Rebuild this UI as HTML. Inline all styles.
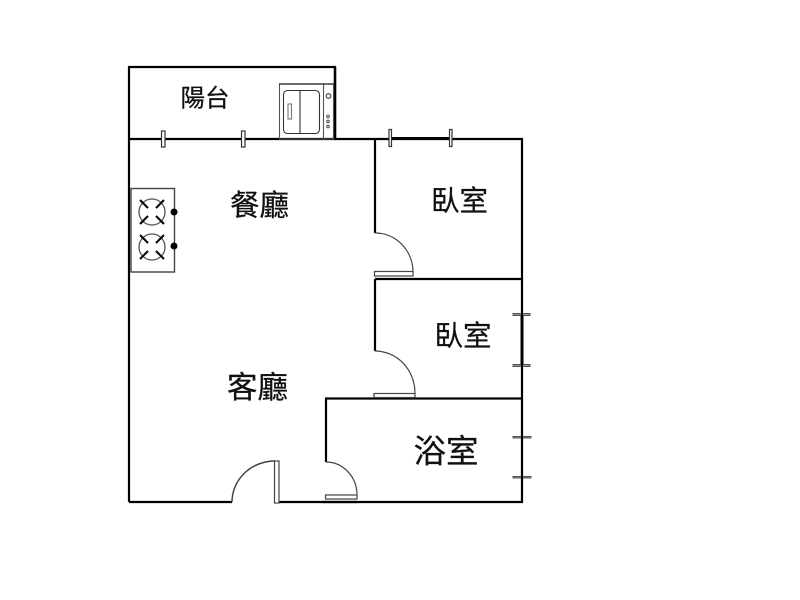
<!DOCTYPE html>
<html><head><meta charset="utf-8">
<style>html,body{margin:0;padding:0;background:#fff}svg{display:block}
text{font-family:"Liberation Sans","Noto Sans CJK TC",sans-serif;fill:#111;stroke:#111;stroke-width:.25px;text-anchor:middle}</style></head>
<body>
<svg width="800" height="600" viewBox="0 0 800 600" xmlns="http://www.w3.org/2000/svg">
<rect width="800" height="600" fill="#fff"/>
<!-- walls -->
<g stroke="#000" stroke-width="2.200" fill="none">
<path d="M129 502V67H335V139"/>
<path d="M129 139H522V502H279"/>
<path d="M129 502H232"/>
<path d="M375 139V233"/>
<path d="M375 279H522"/>
<path d="M375 279V351"/>
<path d="M325 398.500H522"/>
<path d="M326 398.500V462"/>
<path d="M357 502H322"/>
<path d="M390 138.500H451" stroke-width="3"/>
<path d="M522 314V365" stroke-width="3"/>
</g>
<path d="M335 67V139" stroke="#000" stroke-width="2.500"/>
<!-- door swings -->
<g fill="none" stroke="#444" stroke-width="1.200">
<path d="M375 233A38 39 0 0 1 413 272"/>
<path d="M375 351A40 42 0 0 1 415 393"/>
<path d="M326 462A31 33 0 0 1 357 495"/>
<path d="M232 502A43 41 0 0 1 275 461" stroke-width="1.500"/>
</g>
<!-- door leaves -->
<g fill="#fff" stroke="#444" stroke-width="1.200">
<rect x="374.500" y="271.500" width="38.500" height="4.500"/>
<rect x="374" y="393.500" width="41" height="4"/>
<rect x="325.500" y="495" width="31.500" height="4"/>
<rect x="274.500" y="461" width="4.500" height="42"/>
</g>
<!-- windows -->
<g fill="#fff" stroke="#333" stroke-width="1.200">
<rect x="161.500" y="131" width="3.500" height="16"/>
<rect x="241.500" y="131" width="3.500" height="16"/>
<rect x="389" y="129.500" width="2.500" height="17"/>
<rect x="449.500" y="129.500" width="2.500" height="17"/>
</g>
<g fill="#999" stroke="#333" stroke-width="0.800">
<rect x="513" y="313.500" width="17" height="2"/>
<rect x="513" y="364.500" width="17" height="2"/>
<rect x="513" y="436.500" width="18" height="1.500"/>
<rect x="513" y="476.500" width="18" height="1.500"/>
</g>
<path d="M522 310V370M522 432V482" stroke="#000" stroke-width="2"/>
<!-- washer -->
<g fill="none" stroke="#555" stroke-width="1.100">
<rect x="279.500" y="84" width="54" height="55"/>
<path d="M323.500 84V139"/>
<rect x="283.500" y="90.500" width="36" height="43" rx="4" stroke="#333"/>
<path d="M300 90.500V133.500" stroke="#333"/>
<rect x="288" y="104" width="3.500" height="15" stroke="#777"/>
<circle cx="328.500" cy="96" r="2.300" stroke-width="1.300"/>
<circle cx="328" cy="116.500" r="1.300"/>
<circle cx="328" cy="121.500" r="1.300"/>
<circle cx="328" cy="126.500" r="1.300"/>
</g>
<path d="M279 84H335" stroke="#222" stroke-width="1.200"/>
<!-- stove -->
<rect x="131" y="188.500" width="43.500" height="83.500" fill="#fff" stroke="#444" stroke-width="1.400"/>
<g fill="none" stroke="#555" stroke-width="1.300">
<circle cx="152" cy="212" r="13"/>
<circle cx="152" cy="247" r="13"/>
</g>
<g stroke="#000" stroke-width="2">
<path d="M140 200L148 208M164 200L156 208M140 224L148 216M164 224L156 216"/>
<path d="M140 235L148 243M164 235L156 243M140 259L148 251M164 259L156 251"/>
</g>
<circle cx="174" cy="212" r="3.500" fill="#000"/>
<circle cx="174" cy="246" r="3.500" fill="#000"/>
<!-- labels -->
<text x="205" y="106.500" font-size="24.500">陽台</text>
<text x="259.500" y="215.500" font-size="29.500">餐廳</text>
<text x="459.500" y="210.500" font-size="28.500">臥室</text>
<text x="463" y="345.500" font-size="28.500">臥室</text>
<text x="257.500" y="398" font-size="30.500">客廳</text>
<text x="446" y="462.500" font-size="32.500">浴室</text>
</svg>
</body></html>
